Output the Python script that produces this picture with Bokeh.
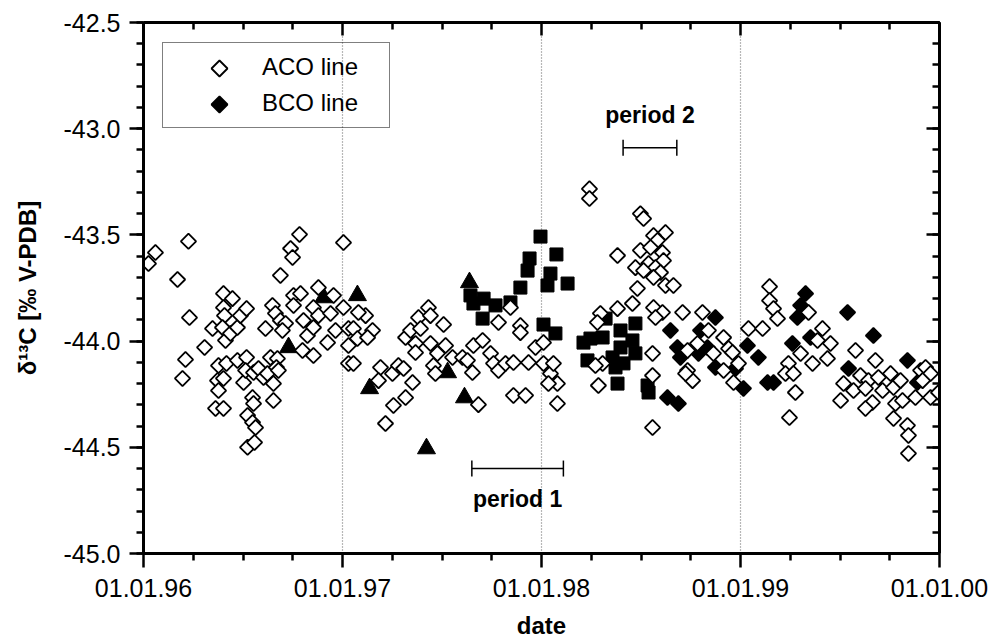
import numpy as np
from bokeh.plotting import figure
from bokeh.models import (Range1d, FixedTicker, LinearAxis, Legend, LegendItem, Label,
                          Whisker, ColumnDataSource, NumeralTickFormatter, TeeHead,
                          PolyAnnotation)
from bokeh.embed import file_html
from bokeh.resources import INLINE

# ---------------- data (decimal year, delta13C permil) ----------------
aco_date = [
    1995.879, 1996.025, 1996.060, 1996.171, 1996.226, 1996.231, 1996.211, 1996.196, 1996.307, 1996.347,
    1996.362, 1996.402, 1996.372, 1996.377, 1996.402, 1996.377, 1996.417, 1996.402, 1996.447, 1996.402,
    1996.407, 1996.397, 1996.412, 1996.437, 1996.472, 1996.487, 1996.518, 1996.472, 1996.518, 1996.503,
    1996.513, 1996.548, 1996.553, 1996.523, 1996.548, 1996.563, 1996.523, 1996.558, 1996.553, 1996.578,
    1996.603, 1996.623, 1996.638, 1996.673, 1996.653, 1996.668, 1996.678, 1996.653, 1996.613, 1996.648,
    1996.663, 1996.688, 1996.714, 1996.698, 1996.688, 1996.739, 1996.749, 1996.784, 1996.754, 1996.789,
    1996.754, 1996.804, 1996.824, 1996.799, 1996.854, 1996.854, 1996.879, 1996.854, 1996.879, 1996.925,
    1996.940, 1996.965, 1996.955, 1997.005, 1997.005, 1997.030, 1997.030, 1997.030,
    1997.055, 1997.075, 1997.116, 1997.080, 1997.151, 1997.126, 1997.055, 1997.191, 1997.181, 1997.251,
    1997.281, 1997.307, 1997.352, 1997.317, 1997.256, 1997.216, 1997.317, 1997.342, 1997.382, 1997.432,
    1997.442, 1997.392, 1997.367, 1997.367, 1997.442, 1997.508, 1997.518, 1997.477, 1997.457, 1997.467,
    1997.553, 1997.603, 1997.628, 1997.653, 1997.658, 1997.704, 1997.744, 1997.759, 1997.784, 1997.819,
    1997.859, 1997.784, 1997.844, 1997.894, 1997.894, 1997.683, 1997.859, 1997.920, 1997.935, 1997.970,
    1998.010, 1998.010, 1998.045, 1998.060, 1998.080, 1998.080, 1998.035,
    1998.241, 1998.241, 1998.497, 1998.513, 1998.623, 1998.563, 1998.583, 1998.382, 1998.497, 1998.548,
    1998.608, 1998.613, 1998.538, 1998.472, 1998.573, 1998.513, 1998.598, 1998.563, 1998.623, 1998.663,
    1998.482, 1998.457, 1998.382, 1998.296, 1998.563, 1998.608, 1998.573, 1998.709, 1998.809, 1998.281,
    1998.558, 1998.307, 1998.286, 1998.759, 1998.864, 1998.915, 1998.940, 1998.734, 1998.784, 1998.839,
    1998.734, 1998.271, 1998.558, 1998.558, 1998.724,
    1999.146, 1999.146, 1999.166, 1999.186, 1999.040, 1999.111, 1998.960, 1998.990, 1998.915, 1998.965,
    1999.342, 1999.302, 1999.362, 1999.241, 1999.226, 1999.266, 1999.276, 1999.246, 1999.412, 1999.452,
    1999.437, 1999.387, 1999.578, 1999.678, 1999.603, 1999.643, 1999.693, 1999.518, 1999.568, 1999.628,
    1999.503, 1999.663, 1999.628, 1999.714, 1999.754, 1999.769, 1999.804, 1999.779, 1999.814, 1999.769,
    1999.839, 1999.844, 1999.844, 1999.905, 1999.930, 1999.955, 1999.915, 1999.879, 1999.955, 1999.995,
]
aco_d13c = [
    -43.76, -43.635, -43.583, -43.71, -43.53, -43.889, -44.087, -44.176, -44.03, -43.941,
    -44.317, -44.317, -44.186, -44.233, -44.176, -44.115, -44.105, -43.776, -43.80, -43.842,
    -43.88, -43.936, -43.997, -43.964, -43.936, -43.88, -43.847, -44.091, -44.077, -44.195,
    -44.138, -44.266, -44.294, -44.35, -44.383, -44.407, -44.50, -44.477, -44.148, -44.129,
    -44.171, -44.153, -44.077, -44.082, -44.20, -44.124, -44.138, -44.28, -43.941, -43.832,
    -43.87, -43.903, -43.917, -43.95, -43.691, -43.564, -43.606, -43.498, -43.785, -43.776,
    -43.832, -43.903, -43.974, -44.044, -44.068, -43.936, -43.748, -43.842, -43.88, -44.007,
    -43.87, -43.95, -43.785, -43.842, -43.536, -43.941, -44.021, -44.105,
    -43.941, -43.988, -43.88, -43.865, -43.95, -43.983, -44.105, -44.124, -44.186, -44.153,
    -44.115, -44.129, -44.195, -44.266, -44.303, -44.388, -43.983, -43.95, -43.889, -43.842,
    -43.88, -43.941, -44.011, -44.054, -44.011, -43.922, -44.021, -44.058, -44.115, -44.153,
    -44.077, -44.077, -44.091, -44.148, -44.021, -43.997, -44.058, -44.105, -44.138, -44.105,
    -44.101, -43.912, -43.842, -43.927, -43.96, -44.299, -44.256, -44.256, -44.101, -44.03,
    -44.007, -44.105, -44.153, -44.105, -44.20, -44.294, -44.20,
    -43.283, -43.329, -43.40, -43.423, -43.489, -43.503, -43.526, -43.597, -43.573, -43.559,
    -43.583, -43.621, -43.635, -43.654, -43.654, -43.668, -43.677, -43.70, -43.738, -43.738,
    -43.752, -43.823, -43.847, -43.87, -43.842, -43.865, -43.889, -43.865, -43.865, -43.912,
    -44.058, -44.105, -44.209, -44.186, -44.058, -43.983, -44.035, -44.044, -44.011, -43.95,
    -44.138, -44.115, -44.162, -44.407, -44.153,
    -43.743, -43.809, -43.847, -43.894, -43.941, -43.941, -44.054, -44.105, -44.138, -44.195,
    -43.865, -44.058, -44.105, -44.105, -44.153, -44.153, -44.242, -44.36, -43.941, -44.011,
    -44.082, -43.997, -44.044, -44.091, -44.162, -44.186, -44.171, -44.20, -44.233, -44.223,
    -44.28, -44.289, -44.317, -44.233, -44.153, -44.218, -44.186, -44.294, -44.28, -44.364,
    -44.397, -44.444, -44.529, -44.138, -44.124, -44.153, -44.186, -44.266, -44.266, -44.242,
]

bco_date = [
    1998.648, 1998.874, 1998.799, 1998.683, 1998.698, 1998.789, 1998.834, 1998.874, 1998.633, 1998.688,
    1999.035, 1999.090, 1998.975, 1999.015, 1999.136, 1999.166, 1999.261, 1999.327, 1999.302, 1999.286,
    1999.352, 1999.538, 1999.668, 1999.543, 1999.839, 1999.889,
]
bco_d13c = [
    -43.95, -43.889, -43.95, -44.03, -44.077, -44.058, -44.03, -44.124, -44.266, -44.294,
    -44.021, -44.077, -44.129, -44.223, -44.195, -44.195, -44.011, -43.776, -43.832, -43.889,
    -43.983, -43.865, -43.974, -44.129, -44.091, -44.195,
]

tri_date = [1996.729, 1996.905, 1997.075, 1997.136, 1997.422, 1997.528, 1997.613, 1997.638]
tri_d13c = [-44.03, -43.795, -43.785, -44.223, -44.506, -44.148, -44.266, -43.724]

sq_date = [
    1997.995, 1997.940, 1997.930, 1997.894, 1997.844, 1997.769, 1997.709, 1997.658, 1997.643, 1997.704,
    1998.075, 1998.045, 1998.030, 1998.131, 1998.010, 1998.070,
    1998.322, 1998.397, 1998.472, 1998.211, 1998.246, 1998.307, 1998.231, 1998.357, 1998.397, 1998.457,
    1998.472, 1998.372, 1998.412, 1998.382, 1998.533, 1998.538,
]
sq_d13c = [
    -43.508, -43.611, -43.668, -43.748, -43.818, -43.832, -43.80, -43.823, -43.785, -43.894,
    -43.592, -43.682, -43.738, -43.729, -43.922, -43.964,
    -43.894, -43.95, -43.917, -44.007, -43.988, -43.983, -44.091, -44.077, -44.03, -43.997,
    -44.058, -44.124, -44.105, -44.20, -44.209, -44.242,
]

year_ticks = [1996, 1997, 1998, 1999, 2000]
year_labels = ["01.01.96", "01.01.97", "01.01.98", "01.01.99", "01.01.00"]
grid_years = [1997, 1998, 1999]
y_major = [-45.0, -44.5, -44.0, -43.5, -43.0, -42.5]

series_names = ["ACO line", "BCO line"]
period_names = ["period 1", "period 2"]
period_start = [1997.65, 1998.41]
period_end = [1998.11, 1998.68]
period_level = [-44.60, -43.09]

x_title = "date"
y_title = "δ¹³C [‰ V-PDB]"

# ---------------- figure ----------------
FONT = "Liberation Sans"
W, HGT = 994, 641
BL, BR, BT, BB = 143, 55, 22, 88
FW, FH = W - BL - BR, HGT - BT - BB
X0, X1 = year_ticks[0], year_ticks[-1]
Y0, Y1 = y_major[0], y_major[-1]
p = figure(width=W, height=HGT, x_range=Range1d(X0, X1), y_range=Range1d(Y0, Y1),
           output_backend="svg", toolbar_location=None,
           min_border_left=BL, min_border_right=BR, min_border_top=BT, min_border_bottom=BB,
           background_fill_color="white", border_fill_color="white")
p.outline_line_color = "black"
p.outline_line_width = 2

minor_x = [y + q / 4 for y in year_ticks[:-1] for q in (1, 2, 3)]
minor_y = np.round(np.arange(Y0, Y1 + 0.05, 0.1), 2).tolist()

xa = p.xaxis[0]
xa.ticker = FixedTicker(ticks=year_ticks, minor_ticks=minor_x)
xa.major_label_overrides = {t: l for t, l in zip(year_ticks, year_labels)}
ya = p.yaxis[0]
ya.ticker = FixedTicker(ticks=y_major, minor_ticks=minor_y)
ya.formatter = NumeralTickFormatter(format="0.0")

for ax in (xa, ya):
    ax.axis_line_width = 3
    ax.major_tick_line_width = 2.5
    ax.minor_tick_line_width = 2.5
    ax.major_tick_out = 14
    ax.major_tick_in = 0
    ax.minor_tick_out = 7
    ax.minor_tick_in = 0
    ax.major_label_text_font = FONT
    ax.major_label_text_font_size = "25px"
    ax.major_label_text_color = "black"
    ax.axis_label_text_font = FONT
    ax.axis_label_text_font_size = "24px"
    ax.axis_label_text_font_style = "bold"
    ax.axis_label_text_color = "black"
xa.major_label_standoff = 11
xa.axis_label = x_title
xa.axis_label_standoff = 12
ya.major_label_standoff = 9
ya.axis_label = y_title
ya.axis_label_standoff = 20

top = LinearAxis(ticker=FixedTicker(ticks=year_ticks, minor_ticks=minor_x))
right = LinearAxis(ticker=FixedTicker(ticks=y_major, minor_ticks=minor_y))
for ax in (top, right):
    ax.axis_line_width = 3
    ax.major_tick_line_width = 2.5
    ax.minor_tick_line_width = 2.5
    ax.major_tick_out = 0
    ax.major_tick_in = 13
    ax.minor_tick_out = 0
    ax.minor_tick_in = 7
    ax.major_label_text_color = None
    ax.major_label_text_font_size = "1px"
    ax.major_label_standoff = 0
p.add_layout(top, "above")
p.add_layout(right, "right")

p.xgrid.ticker = FixedTicker(ticks=grid_years)
p.xgrid.grid_line_color = "#707070"
p.xgrid.grid_line_dash = "1 2"
p.xgrid.grid_line_width = 1.2
p.ygrid.visible = False

# ---------------- glyphs ----------------
MS = 10.8
p.scatter(tri_date, tri_d13c, marker="triangle", size=18, fill_color="black", line_color="black")
p.scatter(sq_date, sq_d13c, marker="square", size=13, fill_color="black", line_color="black")
r_bco = p.scatter(bco_date, bco_d13c, marker="square", angle=np.pi / 4, size=MS,
                  fill_color="black", line_color="black", line_width=1.8)
r_aco = p.scatter(aco_date, aco_d13c, marker="square", angle=np.pi / 4, size=MS,
                  fill_color="white", line_color="black", line_width=1.8)

# ---------------- period brackets ----------------
psrc = ColumnDataSource(dict(base=period_level, lower=period_start, upper=period_end))
wk = Whisker(source=psrc, base="base", lower="lower", upper="upper", dimension="width",
             line_color="black", line_width=1.5,
             upper_head=TeeHead(size=16, line_width=1.5, line_color="black"),
             lower_head=TeeHead(size=16, line_width=1.5, line_color="black"))
p.add_layout(wk)
offsets = [-30, 33]
for name, s, e, lv, off in zip(period_names, period_start, period_end, period_level, offsets):
    p.add_layout(Label(x=(s + e) / 2, y=lv, y_offset=off, text=name, text_align="center",
                       text_baseline="middle", text_font=FONT, text_font_size="23px",
                       text_font_style="bold", text_color="black"))

# ---------------- legend ----------------
# invisible proxy renderers keep the legend glyph slot empty; the diamond symbols
# are drawn as polygons (Bokeh legends do not rotate markers)
prx_aco = p.scatter(x=[], y=[], marker="square", fill_alpha=0, line_alpha=0)
prx_bco = p.scatter(x=[], y=[], marker="square", fill_alpha=0, line_alpha=0)
LX, LY, PAD, GW, GH, SP = 19, 425, 9, 90, 30, 6
legend = Legend(items=[LegendItem(label=series_names[0], renderers=[prx_aco]),
                       LegendItem(label=series_names[1], renderers=[prx_bco])],
                location=(LX, LY), orientation="vertical")
legend.border_line_color = "black"
legend.border_line_width = 1.5
legend.background_fill_alpha = 0
legend.padding = PAD
legend.spacing = SP
legend.glyph_width = GW
legend.glyph_height = GH
legend.label_height = GH
legend.label_width = 118
legend.label_standoff = 0
legend.label_text_font = FONT
legend.label_text_font_size = "24px"
legend.label_text_color = "black"
legend.margin = 0
p.add_layout(legend, "center")

# legend symbol positions: pixel layout of the legend converted to data units
LH = 2 * PAD + 2 * GH + SP
dxp = (X1 - X0) / FW
dyp = (Y1 - Y0) / FH
cxp = LX + PAD + GW / 2 + 3
R = 8
for i, fill in enumerate(["white", "black"]):
    cyp = LY + LH - PAD - GH / 2 - i * (GH + SP)
    cx = X0 + cxp * dxp
    cy = Y0 + cyp * dyp
    p.add_layout(PolyAnnotation(xs=[cx, cx + R * dxp, cx, cx - R * dxp],
                                ys=[cy + R * dyp, cy, cy - R * dyp, cy],
                                xs_units="data", ys_units="data", level="overlay",
                                fill_color=fill, fill_alpha=1, line_color="black",
                                line_alpha=1, line_width=1.8, editable=False))

open("out.html", "w").write(file_html(p, INLINE))
